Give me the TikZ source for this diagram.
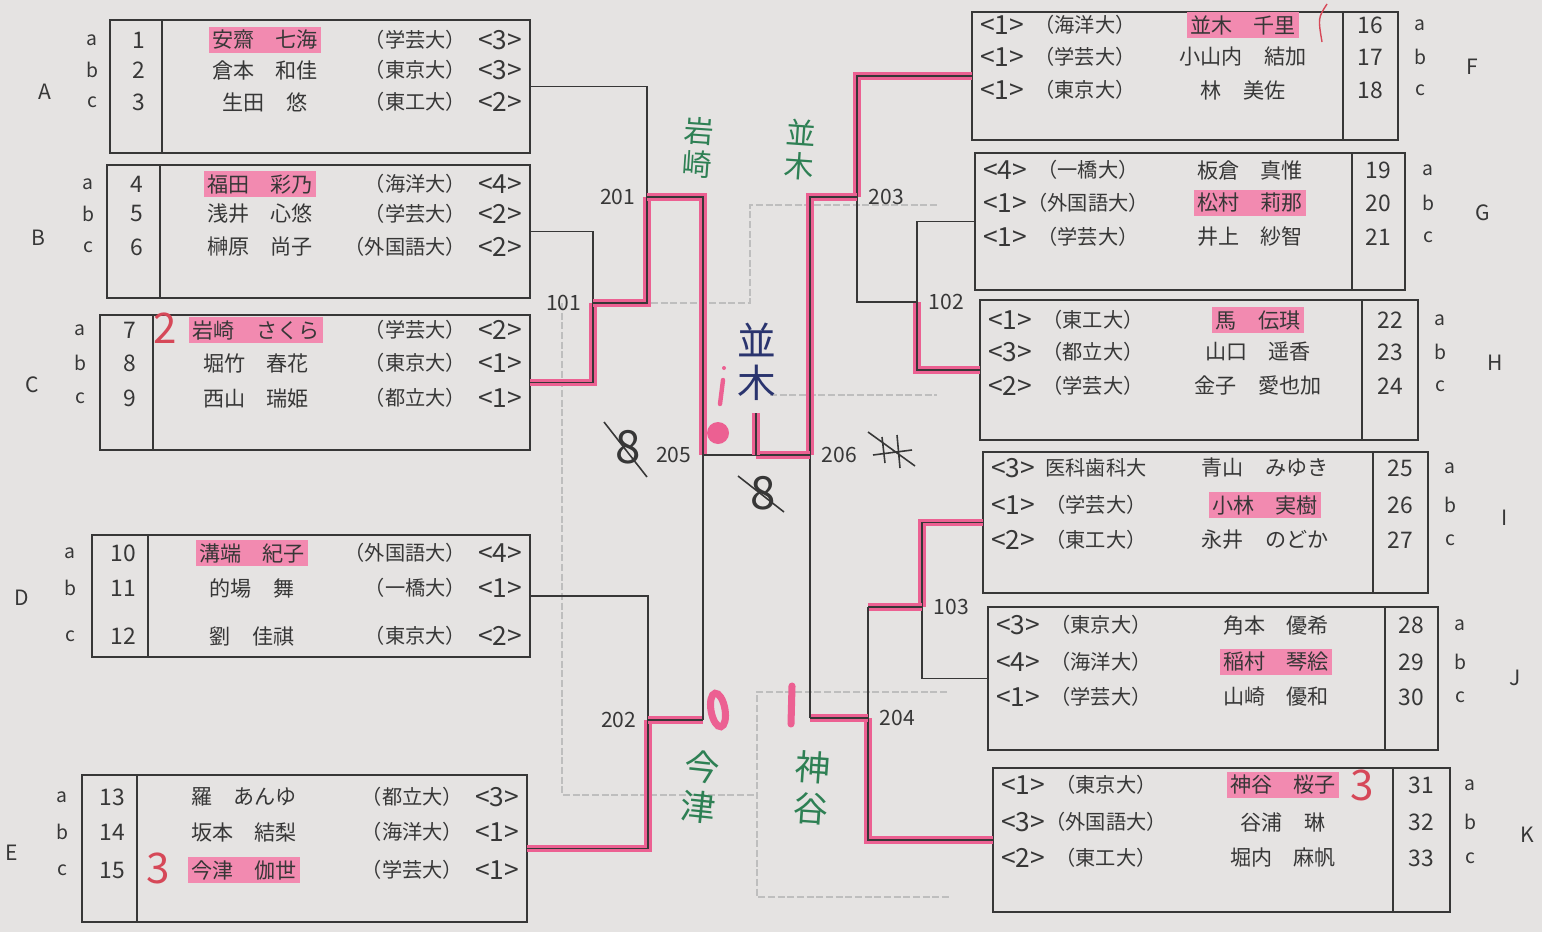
\documentclass[tikz,border=0pt]{standalone}
\usepackage{fontspec}
\setmainfont{Noto Sans CJK JP}
\usepackage{xcolor}
\usepackage{tikz}
\usetikzlibrary{positioning, calc}

\definecolor{paper}{RGB}{229,227,226}
\definecolor{ink}{RGB}{55,55,55}
\definecolor{hilite}{RGB}{242,138,176}
\definecolor{marker}{RGB}{236,96,146}
\definecolor{greenpen}{RGB}{46,128,84}
\definecolor{bluepen}{RGB}{42,52,110}
\definecolor{redpen}{RGB}{214,72,88}
\definecolor{ghost}{RGB}{190,190,190}

\begin{document}
\begin{tikzpicture}[x=0.2mm, y=-0.2mm,
    every node/.style={inner sep=1pt, text=ink},
    box/.style={draw=ink, line width=1.1pt},
    pbox/.style={box, inner sep=0pt, outer sep=0pt},
    bline/.style={draw=ink, line width=0.9pt},
    wline/.style={bline, preaction={draw=marker, line width=4pt}},
    faint/.style={draw=ghost, line width=0.6pt, dash pattern=on 4pt off 1.5pt},
    pname/.style={font=\fontsize{12}{13}\selectfont, inner sep=2pt},
    puni/.style={font=\fontsize{11.5}{13}\selectfont},
    pseed/.style={font=\fontsize{15}{15}\selectfont},
    pnum/.style={font=\fontsize{13}{13}\selectfont},
    plet/.style={font=\fontsize{11}{12}\selectfont},
    grp/.style={font=\fontsize{12}{12}\selectfont},
    matchno/.style={font=\fontsize{12}{12}\selectfont, inner sep=1.5pt},
    hand/.style={font=\fontsize{17}{19}\selectfont, align=center, inner sep=0pt},
  ]
  \fill[paper] (0,0) rectangle (1542,932);
  \useasboundingbox (0,0) rectangle (1542,932);

  % left blocks
  \foreach \g/\xa/\ya/\xb/\yb/\xd/\xl/\gx/\gy/\xm/\rows in {
    A/110/20/530/153/162/92/45/92/265/{1/40/安齋　七海/（学芸大）/3/a/hilite, 2/70/倉本　和佳/（東京大）/3/b/none, 3/102/生田　悠/（東工大）/2/c/none},
    B/107/165/530/298/160/88/38/238/260/{4/184/福田　彩乃/（海洋大）/4/a/hilite, 5/214/浅井　心悠/（学芸大）/2/b/none, 6/247/榊原　尚子/（外国語大）/2/c/none},
    C/100/315/530/450/153/80/32/385/256/{7/330/岩崎　さくら/（学芸大）/2/a/hilite, 8/363/堀竹　春花/（東京大）/1/b/none, 9/398/西山　瑞姫/（都立大）/1/c/none},
    D/92/535/530/657/148/70/22/598/252/{10/553/溝端　紀子/（外国語大）/4/a/hilite, 11/588/的場　舞/（一橋大）/1/b/none, 12/636/劉　佳祺/（東京大）/2/c/none},
    E/82/775/527/922/137/62/12/853/244/{13/797/羅　あんゆ/（都立大）/3/a/none, 14/832/坂本　結梨/（海洋大）/1/b/none, 15/870/今津　伽世/（学芸大）/1/c/hilite}}{
    \node[pbox, minimum width={(\xb-\xa)*0.2mm}, minimum height={(\yb-\ya)*0.2mm}] (box-\g) at ({(\xa+\xb)/2},{(\ya+\yb)/2}) {};
    \draw[box] (\xd,\ya) -- (\xd,\yb);
    \node[grp] (grp-\g) at (\gx,\gy) {\g};
    \foreach \pn/\py/\pname/\puni/\pseed/\plet/\phl in \rows {
      \node[pnum] (no-\pn) at ({(\xa+\xd)/2+3},\py) {\pn};
      \node[plet] (let-\pn) at (\xl,\py) {\plet};
      \node[pname, fill=\phl] (name-\pn) at (\xm,\py) {\pname};
      \node[puni, anchor=east] (uni-\pn) at (\xb-62,\py) {\puni};
      \node[pseed] (seed-\pn) at (\xb-30,\py) {<\pseed>};
    }
  }

  % right blocks
  \foreach \g/\xa/\ya/\xb/\yb/\xd/\xl/\gx/\gy/\xm/\rows in {
    F/972/12/1398/140/1343/1420/1472/67/1243/{16/25/並木　千里/（海洋大）/1/a/hilite, 17/57/小山内　結加/（学芸大）/1/b/none, 18/90/林　美佐/（東京大）/1/c/none},
    G/975/153/1405/290/1352/1428/1483/213/1250/{19/170/板倉　真惟/（一橋大）/4/a/none, 20/203/松村　莉那/（外国語大）/1/b/hilite, 21/237/井上　紗智/（学芸大）/1/c/none},
    H/980/300/1418/440/1362/1440/1495/363/1258/{22/320/馬　伝琪/（東工大）/1/a/hilite, 23/352/山口　遥香/（都立大）/3/b/none, 24/386/金子　愛也加/（学芸大）/2/c/none},
    I/983/452/1428/593/1373/1450/1505/518/1265/{25/468/青山　みゆき/医科歯科大/3/a/none, 26/505/小林　実樹/（学芸大）/1/b/hilite, 27/540/永井　のどか/（東工大）/2/c/none},
    J/988/607/1438/750/1385/1460/1515/678/1276/{28/625/角本　優希/（東京大）/3/a/none, 29/662/稲村　琴絵/（海洋大）/4/b/hilite, 30/697/山崎　優和/（学芸大）/1/c/none},
    K/993/768/1450/912/1393/1470/1527/835/1283/{31/785/神谷　桜子/（東京大）/1/a/hilite, 32/822/谷浦　琳/（外国語大）/3/b/none, 33/858/堀内　麻帆/（東工大）/2/c/none}}{
    \node[pbox, minimum width={(\xb-\xa)*0.2mm}, minimum height={(\yb-\ya)*0.2mm}] (box-\g) at ({(\xa+\xb)/2},{(\ya+\yb)/2}) {};
    \draw[box] (\xd,\ya) -- (\xd,\yb);
    \node[grp] (grp-\g) at (\gx,\gy) {\g};
    \foreach \pn/\py/\pname/\puni/\pseed/\plet/\phl in \rows {
      \node[pnum] (no-\pn) at ({(\xd+\xb)/2},\py) {\pn};
      \node[plet] (let-\pn) at (\xl,\py) {\plet};
      \node[pname, fill=\phl] (name-\pn) at (\xm,\py) {\pname};
      \node[puni] (uni-\pn) at (\xa+113,\py) {\puni};
      \node[pseed] (seed-\pn) at (\xa+30,\py) {<\pseed>};
    }
  }

  % show-through from the back of the sheet
  \draw[faint] (593,303) -- (750,303) -- (750,205) -- (937,205);
  \draw[faint] (770,395) -- (937,395);
  \draw[faint] (562,303) -- (562,795) -- (757,795);
  \draw[faint] (947,692) -- (757,692) -- (757,897) -- (950,897);

  \coordinate (m101) at (593,303);
  \coordinate (m201) at (647,197);
  \coordinate (m202) at (648,720);
  \coordinate (m205) at (703,455);
  \coordinate (m206) at (810,455);
  \coordinate (champ) at (756,413);
  \coordinate (m203) at (857,197);
  \coordinate (m102) at (917,302);
  \coordinate (m103) at (922,607);
  \coordinate (m204) at (868,718);

  \draw[bline] (box-A.east) -| (m201);
  \draw[bline] (box-B.east) -| (m101);
  \draw[wline] (box-C.east) -| (m101);
  \draw[wline] (m101) -| (m201);
  \draw[wline] (m201) -| (m205);
  \draw[bline] (box-D.east) -| (m202);
  \draw[wline] (box-E.east) -| (m202);
  \draw[wline] (m202) -- (m202 -| m205);
  \draw[bline] (m202 -| m205) -- (m205);

  \draw[wline] (box-F.west) -| (m203);
  \draw[bline] (box-G.west) -| (m102);
  \draw[wline] (box-H.west) -| (m102);
  \draw[bline] (m102) -| (m203);
  \draw[wline] (m203) -| (m206);
  \draw[wline] (box-I.west) -| (m103);
  \draw[bline] (box-J.west) -| (m103);
  \draw[wline] (m103) -- (m103 -| m204);
  \draw[bline] (m103 -| m204) -- (m204);
  \draw[wline] (box-K.west) -| (m204);
  \draw[wline] (m204) -- (m204 -| m206);
  \draw[bline] (m204 -| m206) -- (m206);

  \draw[bline] (m205) -- (m205 -| champ);
  \draw[wline] (m205 -| champ) -- (m206);
  \draw[wline] (champ) -- (champ |- m205);

  \node[matchno, left=5pt of m101] (no101) {101};
  \node[matchno, left=5pt of m201] (no201) {201};
  \node[matchno, left=5pt of m202] (no202) {202};
  \node[matchno, left=5pt of m205] (no205) {205};
  \node[matchno, right=5pt of m206] (no206) {206};
  \node[matchno, right=5pt of m203] (no203) {203};
  \node[matchno, right=5pt of m102] (no102) {102};
  \node[matchno, right=5pt of m103] (no103) {103};
  \node[matchno, right=5pt of m204] (no204) {204};

  % handwriting
  \node[hand, text=greenpen, rotate=-4] (hw-iwasaki) at (698,148) {岩\\崎};
  \node[hand, text=greenpen, rotate=-4] (hw-namiki) at (800,150) {並\\木};
  \node[hand, text=bluepen, font=\fontsize{22}{24}\selectfont] (hw-final) at (757,362) {並\\木};
  \node[hand, text=greenpen, font=\fontsize{20}{23}\selectfont, rotate=-6] (hw-imazu) at (700,787) {今\\津};
  \node[hand, text=greenpen, font=\fontsize{20}{23}\selectfont, rotate=-4] (hw-kamiya) at (812,788) {神\\谷};
  \node[hand, text=redpen, font=\fontsize{24}{24}\selectfont] (hw-two) at (165,328) {2};
  \node[hand, text=redpen, font=\fontsize{24}{24}\selectfont] (hw-three-e) at (158,868) {3};
  \node[hand, text=redpen, font=\fontsize{24}{24}\selectfont] (hw-three-k) at (1362,785) {3};
  \draw[redpen, line width=0.8pt] (1327,4) .. controls (1318,18) .. (1322,42);

  \node[hand, font=\fontsize{26}{26}\selectfont] (eight-a) at (628,447) {8};
  \draw[ink, line width=0.9pt] (604,422) -- (647,477);
  \node[hand, font=\fontsize{26}{26}\selectfont] (eight-b) at (763,493) {8};
  \draw[ink, line width=0.9pt] (738,476) -- (784,512);
  \draw[ink, line width=0.9pt] (882,437) -- (885,463) (897,435) -- (900,468)
    (873,455) -- (912,450) (868,432) -- (915,466);

  \draw[marker, line width=4pt] (718,710) ellipse [x radius=1.4mm, y radius=3.4mm, rotate=10];
  \draw[marker, line width=4pt, line cap=round] (792,686) -- (791,724);
  \draw[marker, line width=2.5pt, line cap=round] (723,380) -- (720,404);
  \fill[marker] (724,368) circle [radius=0.4mm];
  \fill[marker] (718,433) circle [radius=2.2mm];
\end{tikzpicture}
\end{document}
